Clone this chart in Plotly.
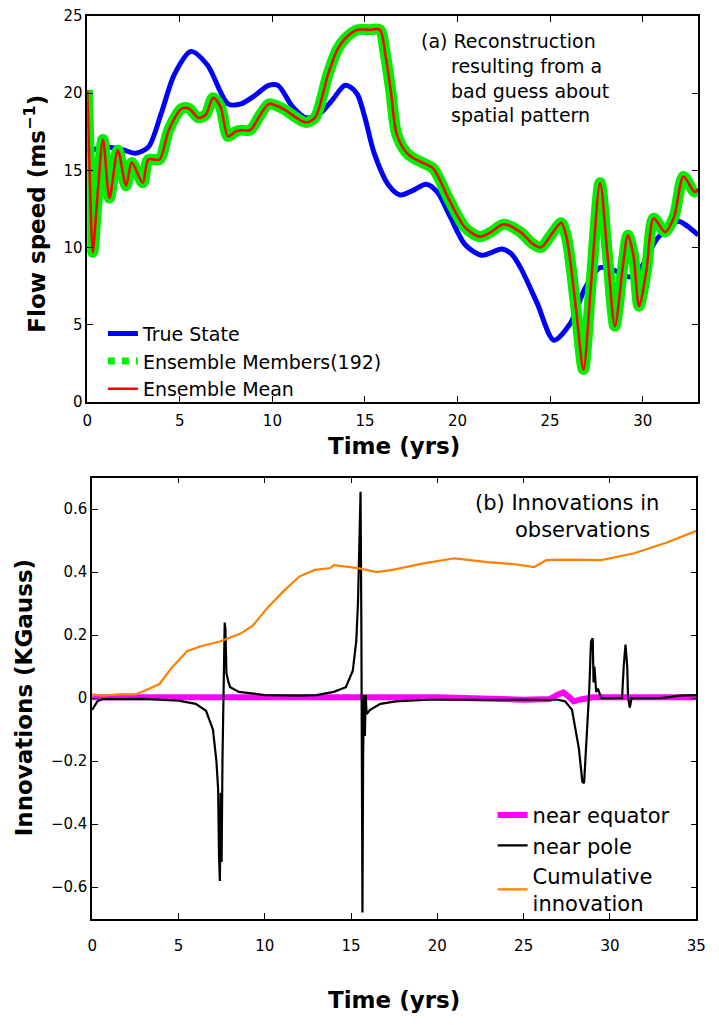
import plotly.graph_objects as go

# ---------------- Panel (a) data ----------------
t_true = [0, 0.6, 1.2, 2.0, 2.6, 3.3, 4.0, 4.7, 5.6, 6.5, 7.6, 8.3, 9.0, 9.8, 10.3, 11.1, 11.8, 12.5,
          13.2, 13.9, 14.2, 14.6, 15.0, 15.5, 16.3, 16.9, 17.6, 18.3, 18.9, 19.6, 20.4, 21.3, 22.4,
          22.9, 23.4, 24.3, 25.2, 26.1, 26.9, 27.7, 28.5, 29.3, 29.9, 30.8, 31.9, 32.4, 33.0]
true_state = [16.3, 16.4, 16.5, 16.3, 16.1, 16.5, 18.7, 21.2, 22.7, 21.8, 19.3, 19.3, 19.8, 20.5, 20.5,
              19.1, 18.4, 18.6, 19.5, 20.5, 20.4, 19.9, 18.4, 16.1, 14.0, 13.4, 13.7, 14.1, 13.6, 12.0,
              10.2, 9.5, 9.9, 9.6, 8.7, 6.4, 4.0, 5.1, 7.4, 8.7, 8.5, 8.1, 8.7, 10.6, 11.7, 11.4, 10.8]

t_ens = [0, 0.15, 0.3, 0.5, 0.85, 1.2, 1.65, 2.1, 2.4, 3.0, 3.3, 3.9, 4.4, 5.1, 5.5, 6.0, 6.4, 6.8, 7.2,
         7.6, 8.0, 8.3, 8.8, 9.3, 9.8, 10.2, 10.7, 11.3, 11.8, 12.3, 13.0, 13.5, 13.9, 14.6, 15.2, 15.8,
         16.1, 16.4, 16.7, 17.2, 17.6, 18.1, 18.7, 19.5, 20.4, 21.2, 21.8, 22.5, 23.4, 24.0, 24.5, 25.1,
         25.6, 25.9, 26.4, 26.8, 27.2, 27.7, 28.1, 28.5, 28.9, 29.2, 29.5, 29.8, 30.2, 30.6, 31.2, 31.7,
         32.2, 32.8, 33.0]
ens_mean = [20.2, 14.0, 9.7, 12.5, 17.0, 13.2, 16.3, 14.0, 15.5, 14.2, 15.7, 15.7, 17.6, 19.0, 19.0,
            18.4, 18.6, 19.7, 19.1, 17.2, 17.5, 17.6, 17.6, 18.5, 19.3, 19.2, 18.9, 18.4, 18.1, 18.4,
            21.2, 22.8, 23.5, 24.1, 24.1, 24.1, 22.5, 20.1, 17.4, 16.2, 15.8, 15.5, 15.1, 13.2, 11.3,
            10.7, 11.0, 11.5, 11.0, 10.3, 10.0, 10.9, 11.6, 10.6, 6.0, 2.1, 7.5, 14.2, 9.5, 4.9, 8.5,
            10.8, 9.5, 6.2, 8.5, 11.9, 11.0, 12.0, 14.6, 13.6, 13.8]
# the 192 members overlap the mean at this scale
ens_members = list(ens_mean)

# ---------------- Panel (b) data ----------------
t_cum = [0, 0.6, 1.5, 2.5, 3.1, 3.9, 4.6, 5.5, 6.3, 7.4, 8.6, 9.3, 10.1, 11.0, 12.0, 12.9, 13.8, 14.0,
         15.4, 16.5, 17.4, 19.2, 21.0, 22.9, 24.5, 25.6, 26.3, 27.5, 29.5, 31.4, 33.3, 35.0]
cumulative = [0.012, 0.008, 0.012, 0.012, 0.025, 0.045, 0.096, 0.149, 0.165, 0.18, 0.205, 0.23, 0.283,
              0.335, 0.386, 0.407, 0.413, 0.422, 0.413, 0.40, 0.407, 0.428, 0.444, 0.432, 0.425, 0.416,
              0.438, 0.44, 0.438, 0.46, 0.494, 0.531]

t_pole = [0, 0.3, 0.6, 3.0, 5.0, 6.0, 6.6, 7.0, 7.2, 7.3, 7.35, 7.4, 7.45, 7.5, 7.55, 7.62, 7.68, 7.72,
          7.78, 7.9, 8.0, 8.5, 10.0, 12.0, 13.0, 14.0, 14.7, 15.1, 15.3, 15.4, 15.5, 15.55, 15.6, 15.62,
          15.66, 15.7, 15.75, 15.8, 15.85, 15.9, 16.1, 16.7, 17.6, 19.5, 27.0, 27.4, 27.8, 28.2, 28.4,
          28.5, 28.6, 28.8, 28.9, 29.0, 29.05, 29.1, 29.2, 29.3, 29.5, 30.7, 30.8, 30.9, 31.0, 31.05,
          31.15, 31.25, 33.0, 34.0, 35.0]
near_pole = [-0.037, -0.01, -0.003, -0.002, -0.008, -0.018, -0.04, -0.1, -0.2, -0.29, -0.5, -0.58,
             -0.3, -0.52, -0.2, 0.1, 0.24, 0.22, 0.08, 0.05, 0.035, 0.02, 0.01, 0.008, 0.01, 0.02, 0.035,
             0.087, 0.18, 0.3, 0.6, 0.655, 0.2, -0.2, -0.68, -0.18, 0.01, -0.12, 0.01, -0.05, -0.037,
             -0.018, -0.01, -0.005, -0.005, -0.01, -0.037, -0.16, -0.265, -0.27, -0.18, 0.025, 0.18,
             0.19, 0.05, 0.1, 0.02, 0.03, 0.0, 0.0, 0.105, 0.17, 0.1, 0.0, -0.03, 0.0, 0.0, 0.008, 0.01]

t_eq = [0, 5, 10, 15, 20, 25, 26.5, 27.0, 27.3, 27.6, 27.9, 28.3, 29, 35]
near_equator = [0.003, 0.002, 0.003, 0.002, 0.003, -0.005, -0.003, 0.012, 0.018, 0.005, -0.01, -0.004,
                0.003, 0.003]

W, H = 719, 1025
FONT = "DejaVu Sans"


def px(x):
    return x / W


def py(y):
    return 1 - y / H


fig = go.Figure()

# panel (a)
fig.add_trace(go.Scatter(x=t_true, y=true_state, mode="lines", name="True State",
                         line=dict(color="#0000ff", width=5, shape="spline", smoothing=0.8),
                         xaxis="x", yaxis="y", legend="legend"))
fig.add_trace(go.Scatter(x=[None], y=[None], mode="lines", name="Ensemble Members(192)",
                         line=dict(color="#00ee00", width=7, dash="dot"),
                         xaxis="x", yaxis="y", legend="legend"))
fig.add_trace(go.Scatter(x=t_ens, y=ens_members, mode="lines", name="Ensemble Members(192)",
                         showlegend=False,
                         line=dict(color="#00ee00", width=11, shape="spline", smoothing=0.8),
                         xaxis="x", yaxis="y"))
fig.add_trace(go.Scatter(x=t_ens, y=ens_mean, mode="lines", name="Ensemble Mean",
                         line=dict(color="#ff0000", width=2.5, shape="spline", smoothing=0.8),
                         xaxis="x", yaxis="y", legend="legend"))

# panel (b)
fig.add_trace(go.Scatter(x=t_eq, y=near_equator, mode="lines", name="near equator",
                         line=dict(color="#ff00ff", width=6),
                         xaxis="x2", yaxis="y2", legend="legend2", legendrank=1))
fig.add_trace(go.Scatter(x=t_pole, y=near_pole, mode="lines", name="near pole",
                         line=dict(color="#000000", width=2.2),
                         xaxis="x2", yaxis="y2", legend="legend2", legendrank=2))
fig.add_trace(go.Scatter(x=t_cum, y=cumulative, mode="lines", name="Cumulative<br>innovation",
                         line=dict(color="#ff8000", width=2.2),
                         xaxis="x2", yaxis="y2", legend="legend2", legendrank=3))

axis_common = dict(showline=True, linecolor="black", linewidth=1.5, mirror="ticks",
                   ticks="inside", ticklen=6, tickwidth=1.2, tickcolor="black",
                   showgrid=False, zeroline=False, ticklabeloverflow="allow",
                   tickfont=dict(family=FONT, size=15, color="black"))

fig.update_layout(
    width=W, height=H,
    margin=dict(l=0, r=0, t=0, b=0),
    paper_bgcolor="white", plot_bgcolor="white",
    font=dict(family=FONT, color="black"),
    xaxis=dict(domain=[px(84), px(708)], range=[0, 33], tickvals=[0, 5, 10, 15, 20, 25, 30],
               anchor="y", ticklabelstandoff=4, **axis_common),
    yaxis=dict(domain=[py(400), py(7)], range=[0, 25], tickvals=[0, 5, 10, 15, 20, 25],
               anchor="x", **axis_common),
    xaxis2=dict(domain=[px(89), px(706)], range=[0, 35], tickvals=[0, 5, 10, 15, 20, 25, 30, 35],
                anchor="y2", ticklabelstandoff=13, **axis_common),
    yaxis2=dict(domain=[py(926), py(477)], range=[-0.7, 0.7],
                tickvals=[-0.6, -0.4, -0.2, 0, 0.2, 0.4, 0.6], anchor="x2", **axis_common),
    legend=dict(x=px(100), y=py(311), xanchor="left", yanchor="top",
                bgcolor="rgba(0,0,0,0)", font=dict(family=FONT, size=19, color="black"),
                tracegroupgap=0, itemwidth=30),
    legend2=dict(x=px(498), y=py(800), xanchor="left", yanchor="top",
                 bgcolor="rgba(0,0,0,0)", font=dict(family=FONT, size=21, color="black"),
                 tracegroupgap=0, itemwidth=30),
    showlegend=True,
)

ann = []
# axis titles
ann.append(dict(text="Time (yrs)", x=px(397), y=py(445), xref="paper", yref="paper",
                showarrow=False, xanchor="center", yanchor="middle",
                font=dict(family=FONT, size=23, color="black", weight="bold")))
ann.append(dict(text="Time (yrs)", x=px(397), y=py(1024), xref="paper", yref="paper",
                showarrow=False, xanchor="center", yanchor="bottom",
                font=dict(family=FONT, size=23, color="black", weight="bold")))
ann.append(dict(text="Flow speed (ms<sup>−1</sup>)", x=px(31), y=py(208), xref="paper", yref="paper",
                showarrow=False, xanchor="center", yanchor="middle", textangle=-90,
                font=dict(family=FONT, size=23, color="black", weight="bold")))
ann.append(dict(text="Innovations (KGauss)", x=px(19), y=py(701), xref="paper", yref="paper",
                showarrow=False, xanchor="center", yanchor="middle", textangle=-90,
                font=dict(family=FONT, size=23, color="black", weight="bold")))
# panel labels
lab_a = [("(a) Reconstruction", 423, 33), ("resulting from a", 453, 58),
         ("bad guess about", 453, 83), ("spatial pattern", 453, 108)]
for txt, x0, y0 in lab_a:
    ann.append(dict(text=txt, x=px(x0), y=py(y0), xref="paper", yref="paper", showarrow=False,
                    xanchor="left", yanchor="middle",
                    font=dict(family=FONT, size=19, color="black")))
lab_b = [("(b) Innovations in", 478, 503), ("observations", 519, 530)]
for txt, x0, y0 in lab_b:
    ann.append(dict(text=txt, x=px(x0), y=py(y0), xref="paper", yref="paper", showarrow=False,
                    xanchor="left", yanchor="middle",
                    font=dict(family=FONT, size=21, color="black")))
fig.update_layout(annotations=ann)

fig.write_html("out.html")
